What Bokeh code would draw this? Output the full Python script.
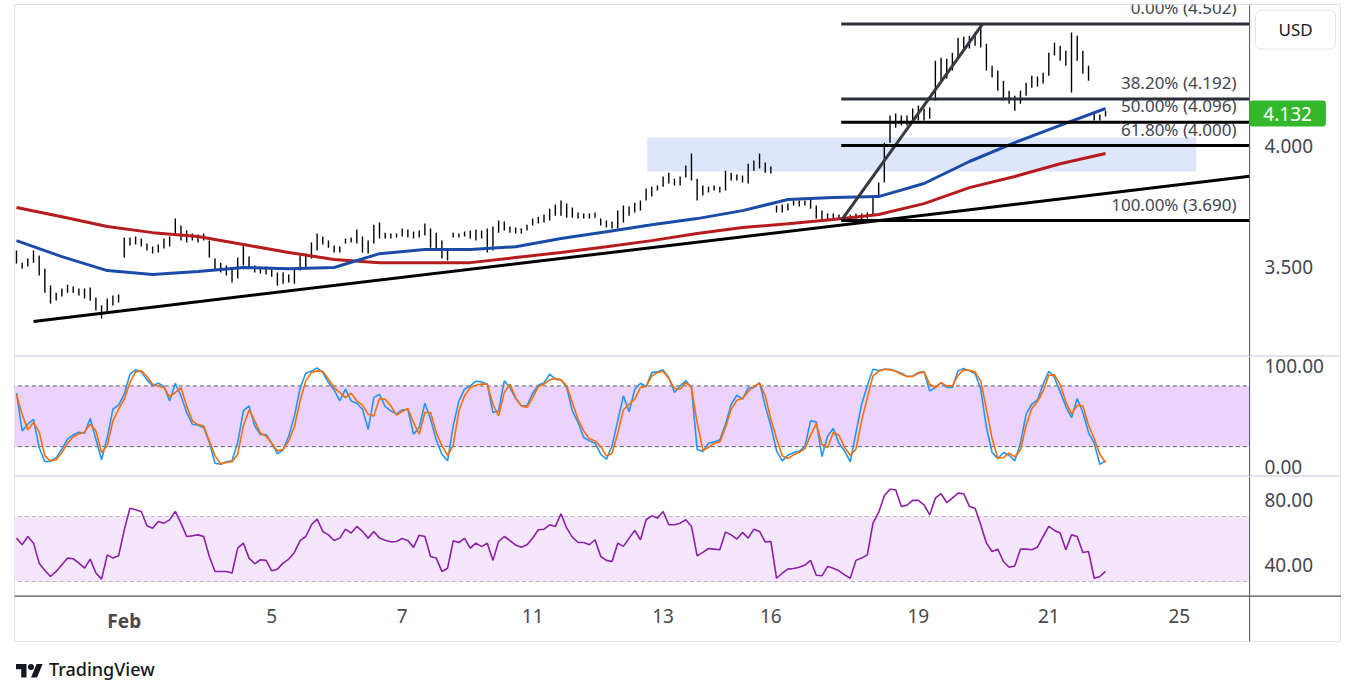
from bokeh.plotting import figure
from bokeh.models import (ColumnDataSource, Range1d, FixedTicker, Label, Div,
                          BoxAnnotation, Span, PrintfTickFormatter)
from bokeh.layouts import column
from bokeh.embed import file_html
from bokeh.resources import INLINE
from bokeh.core.properties import value

FONT = "Noto Sans"

# ---------------- data (2-hour samples) ----------------
highs = [
3.566, 3.516, 3.533, 3.566, 3.545, 3.491, 3.421, 3.392, 3.409, 3.425,
3.417, 3.409, 3.409, 3.413, 3.372, 3.339, 3.368, 3.380, 3.384, 3.620,
3.620, 3.624, 3.616, 3.595, 3.583, 3.591, 3.616, 3.624, 3.698, 3.669,
3.649, 3.636, 3.632, 3.636, 3.607, 3.533, 3.516, 3.504, 3.496, 3.537,
3.587, 3.541, 3.504, 3.500, 3.500, 3.491, 3.475, 3.475, 3.467, 3.491,
3.545, 3.554, 3.599, 3.636, 3.624, 3.607, 3.587, 3.583, 3.616, 3.620,
3.653, 3.624, 3.607, 3.673, 3.682, 3.640, 3.636, 3.636, 3.657, 3.653,
3.645, 3.649, 3.678, 3.657, 3.640, 3.607, 3.566, 3.640, 3.636, 3.645,
3.649, 3.653, 3.649, 3.657, 3.665, 3.690, 3.686, 3.665, 3.661, 3.657,
3.673, 3.698, 3.706, 3.715, 3.739, 3.756, 3.773, 3.760, 3.744, 3.723,
3.719, 3.719, 3.723, 3.698, 3.690, 3.686, 3.731, 3.752, 3.748, 3.764,
3.773, 3.822, 3.830, 3.835, 3.872, 3.888, 3.863, 3.872, 3.917, 3.967,
3.863, 3.835, 3.830, 3.835, 3.830, 3.896, 3.888, 3.880, 3.876, 3.925,
3.938, 3.967, 3.930, 3.913, 3.752, 3.756, 3.760, 3.773, 3.773, 3.773,
3.781, 3.752, 3.731, 3.719, 3.719, 3.715, 3.719, 3.715, 3.719, 3.719,
3.723, 3.793, 3.847, 4.012, 4.124, 4.132, 4.124, 4.124, 4.153, 4.165,
4.153, 4.157, 4.351, 4.363, 4.359, 4.384, 4.446, 4.450, 4.454, 4.467,
4.502, 4.421, 4.330, 4.310, 4.268, 4.227, 4.206, 4.227, 4.260, 4.289,
4.285, 4.301, 4.384, 4.425, 4.413, 4.392, 4.467, 4.454, 4.392, 4.330,
4.136, 4.128, 4.144]
lows = [
3.512, 3.491, 3.500, 3.516, 3.463, 3.392, 3.347, 3.359, 3.376, 3.392,
3.392, 3.380, 3.368, 3.359, 3.318, 3.285, 3.306, 3.339, 3.351, 3.537,
3.587, 3.591, 3.583, 3.566, 3.554, 3.558, 3.574, 3.583, 3.628, 3.607,
3.599, 3.607, 3.599, 3.607, 3.537, 3.483, 3.475, 3.463, 3.434, 3.450,
3.504, 3.496, 3.475, 3.471, 3.467, 3.458, 3.421, 3.429, 3.434, 3.429,
3.483, 3.491, 3.533, 3.566, 3.591, 3.578, 3.558, 3.558, 3.595, 3.599,
3.595, 3.558, 3.554, 3.595, 3.616, 3.616, 3.616, 3.620, 3.624, 3.620,
3.616, 3.620, 3.628, 3.578, 3.574, 3.533, 3.525, 3.620, 3.620, 3.624,
3.616, 3.607, 3.616, 3.558, 3.566, 3.640, 3.649, 3.640, 3.636, 3.636,
3.649, 3.669, 3.678, 3.682, 3.690, 3.710, 3.710, 3.702, 3.702, 3.698,
3.698, 3.698, 3.702, 3.669, 3.661, 3.657, 3.657, 3.682, 3.710, 3.723,
3.731, 3.773, 3.789, 3.814, 3.830, 3.843, 3.835, 3.835, 3.868, 3.855,
3.773, 3.793, 3.806, 3.814, 3.806, 3.814, 3.855, 3.855, 3.847, 3.843,
3.896, 3.905, 3.888, 3.884, 3.723, 3.723, 3.731, 3.752, 3.748, 3.752,
3.739, 3.698, 3.692, 3.695, 3.693, 3.696, 3.690, 3.692, 3.695, 3.694,
3.698, 3.710, 3.793, 3.847, 4.012, 4.074, 4.083, 4.083, 4.095, 4.103,
4.103, 4.111, 4.186, 4.260, 4.277, 4.310, 4.359, 4.392, 4.401, 4.413,
4.405, 4.310, 4.281, 4.227, 4.186, 4.173, 4.144, 4.173, 4.206, 4.239,
4.244, 4.256, 4.289, 4.372, 4.351, 4.330, 4.219, 4.351, 4.297, 4.268,
4.103, 4.103, 4.120]
last_price = 4.132

# moving averages, one reading every 8 samples
ma_step = 8
ma_fast = [3.607, 3.541, 3.483, 3.467, 3.479, 3.496, 3.491, 3.496, 3.553, 3.570,
           3.570, 3.582, 3.616, 3.644, 3.673, 3.698, 3.731, 3.777, 3.785, 3.789,
           3.843, 3.934, 4.012, 4.083, 4.153]
ma_slow = [3.744, 3.706, 3.665, 3.640, 3.624, 3.591, 3.558, 3.529, 3.516, 3.516,
           3.516, 3.537, 3.558, 3.582, 3.607, 3.636, 3.661, 3.677, 3.694, 3.715,
           3.760, 3.826, 3.872, 3.925, 3.967]

stoch_k = [
72.8, 35.6, 42.2, 47.1, 19.1, 5.0, 5.6, 9.2, 17.5, 27.4,
31.6, 34.3, 33.3, 47.8, 27.4, 7.0, 29.0, 57.0, 61.0, 71.8,
91.6, 95.9, 93.9, 86.0, 80.1, 82.7, 79.4, 65.2, 82.7, 70.2,
53.7, 42.2, 41.2, 38.9, 24.1, 3.6, 2.6, 5.0, 6.0, 24.1,
55.3, 60.3, 40.5, 32.0, 32.0, 23.4, 12.9, 16.8, 30.6, 50.4,
77.4, 92.6, 94.5, 97.8, 93.2, 83.3, 76.1, 65.2, 76.8, 65.2,
62.9, 57.0, 37.2, 68.5, 71.8, 59.6, 55.3, 52.4, 56.3, 57.0,
32.3, 38.9, 62.9, 47.1, 26.7, 12.5, 6.0, 40.5, 65.2, 76.8,
80.1, 84.7, 84.0, 81.7, 53.7, 55.3, 85.0, 78.4, 67.5, 60.3,
60.3, 72.8, 80.7, 83.3, 91.6, 86.6, 86.0, 78.4, 55.3, 43.8,
29.0, 25.7, 23.4, 12.5, 7.6, 20.8, 45.5, 70.2, 54.4, 76.8,
82.7, 79.4, 93.2, 93.9, 95.9, 88.3, 73.5, 80.1, 85.0, 78.4,
17.5, 15.2, 23.4, 24.7, 26.7, 42.2, 61.9, 70.8, 66.9, 77.8,
78.4, 83.3, 60.3, 40.5, 15.8, 6.0, 11.5, 14.2, 15.5, 20.1,
45.5, 44.5, 10.2, 30.6, 37.9, 23.4, 15.8, 5.0, 33.9, 61.9,
80.1, 96.5, 95.2, 96.5, 96.5, 94.9, 92.6, 89.3, 89.9, 93.2,
94.2, 75.1, 78.4, 83.3, 78.7, 78.4, 94.9, 97.2, 94.9, 92.2,
76.8, 38.9, 14.2, 8.2, 14.2, 11.5, 6.0, 23.4, 52.1, 61.9,
66.2, 81.7, 94.5, 88.3, 74.1, 59.6, 48.8, 67.5, 53.7, 33.9,
23.4, 2.6, 6.0]
stoch_d = [
71.2, 52.1, 36.6, 43.8, 34.6, 10.9, 6.0, 7.0, 14.2, 23.4,
29.7, 32.6, 34.6, 42.2, 35.6, 14.2, 20.8, 45.5, 57.0, 66.9,
83.3, 93.9, 94.9, 89.3, 81.7, 79.7, 78.4, 69.5, 73.5, 78.4,
60.3, 45.5, 41.8, 40.5, 25.7, 10.9, 3.0, 4.3, 5.0, 12.5,
40.5, 56.3, 45.5, 33.3, 30.6, 23.4, 15.8, 17.5, 25.7, 39.9,
65.2, 85.0, 93.2, 94.9, 94.2, 86.6, 78.4, 73.5, 68.5, 72.8,
65.2, 61.0, 52.1, 50.4, 67.5, 66.9, 60.3, 51.1, 54.7, 57.7,
43.8, 32.3, 53.7, 53.7, 34.0, 20.8, 11.5, 21.4, 55.3, 70.2,
78.4, 80.7, 82.0, 81.7, 61.9, 50.4, 73.5, 81.7, 68.5, 60.3,
58.6, 68.5, 79.4, 81.7, 86.0, 87.3, 86.0, 80.1, 63.6, 47.1,
35.6, 27.7, 25.7, 20.1, 10.9, 13.5, 33.3, 56.3, 61.9, 66.9,
78.4, 79.4, 89.9, 93.2, 94.5, 87.3, 77.4, 76.8, 83.3, 78.4,
43.8, 16.5, 19.1, 23.4, 24.7, 38.9, 57.0, 65.9, 67.5, 74.5,
79.7, 82.7, 70.2, 47.1, 28.0, 10.9, 8.2, 11.9, 14.5, 18.1,
31.3, 42.8, 22.4, 19.1, 33.9, 31.3, 19.1, 11.5, 17.5, 45.5,
68.5, 89.9, 94.5, 96.5, 95.9, 94.5, 91.6, 89.3, 89.3, 92.6,
93.9, 81.7, 78.4, 83.3, 80.1, 80.1, 90.6, 95.9, 95.5, 93.9,
84.7, 57.0, 28.0, 8.6, 9.2, 13.5, 9.9, 16.8, 41.2, 57.7,
64.6, 75.1, 90.6, 90.9, 81.4, 64.2, 52.1, 60.9, 60.3, 41.2,
28.0, 12.5, 4.3]
rsi = [
56.7, 52.6, 57.7, 53.6, 41.3, 36.8, 33.1, 36.2, 40.3, 44.4,
44.0, 41.3, 38.2, 43.8, 35.2, 31.5, 46.4, 44.4, 45.8, 61.8,
75.1, 74.1, 73.1, 64.3, 62.8, 66.9, 65.9, 67.9, 73.1, 65.9,
57.7, 58.1, 58.7, 57.7, 45.4, 36.2, 36.2, 36.2, 35.2, 50.5,
53.6, 44.4, 40.9, 43.4, 43.0, 36.6, 37.6, 41.3, 43.8, 47.9,
55.2, 57.7, 64.9, 68.4, 60.8, 58.7, 55.2, 56.7, 62.2, 59.8,
63.9, 60.8, 56.7, 60.8, 56.7, 55.4, 54.4, 54.6, 56.5, 55.3,
51.0, 58.5, 57.7, 45.4, 44.4, 36.2, 38.2, 55.0, 54.0, 56.5,
50.5, 53.6, 51.5, 53.6, 43.0, 54.6, 57.7, 55.2, 52.4, 51.1,
52.6, 56.7, 61.8, 62.2, 64.9, 63.9, 71.7, 62.8, 57.3, 54.0,
54.0, 52.6, 55.7, 45.4, 43.0, 42.3, 53.6, 51.6, 56.7, 61.4,
55.7, 68.0, 70.4, 69.0, 73.1, 64.9, 64.9, 65.9, 68.0, 63.9,
45.8, 47.9, 50.3, 49.9, 49.5, 60.4, 58.7, 56.1, 60.2, 56.7,
62.2, 60.8, 54.4, 54.6, 32.0, 35.1, 37.6, 38.0, 38.8, 40.1,
43.0, 33.9, 33.5, 39.2, 38.2, 36.6, 34.1, 32.0, 43.0, 44.4,
46.4, 65.9, 72.5, 82.7, 86.8, 86.4, 76.2, 77.0, 79.9, 79.9,
77.2, 71.0, 81.3, 84.0, 78.6, 81.3, 84.4, 84.0, 76.2, 75.1,
64.9, 53.6, 48.5, 49.9, 42.3, 38.8, 39.6, 49.9, 49.9, 49.5,
51.1, 57.7, 63.9, 61.4, 59.8, 49.5, 58.7, 57.7, 47.9, 48.5,
32.0, 33.1, 36.2]

# Fibonacci retracement drawn from the swing low bar to the swing high bar
fib_low_bar, fib_high_bar = 145.4, 170.3
fib_ratios = ["0.00%", "38.20%", "50.00%", "61.80%", "100.00%"]
fib_levels = [4.502, 4.192, 4.096, 4.000, 3.690]
# long rising trend line (two anchor points)
trend_bars = [3, 217.4]
trend_prices = [3.273, 3.873]
# support / resistance zone
zone_bars = (111.2, 208.0)
zone_prices = (3.893, 4.033)

# time axis: bar position of each date label (the month label is drawn bold)
date_labels = ["Feb", "5", "7", "11", "13", "16", "19", "21", "25"]
date_bars = [19, 45, 68, 91, 114, 133, 159, 182, 205]

price_ticks = [3.5, 4.0]
stoch_ticks = [0, 100]
rsi_ticks = [40, 80]

# ---------------- layout constants ----------------
FRAME_W = 1327            # plot area incl. the price-scale strip
X_RANGE = Range1d(-0.35, 233.6)
SCALE_X = 217.4           # x where the price scale strip begins
AXIS_COL = "#50535e"
LBL_COL = "#434651"
BORDER = "#e0e3eb"


def style_axis(ax, ticks, fmt):
    ax.ticker = FixedTicker(ticks=ticks)
    ax.formatter = PrintfTickFormatter(format=fmt)
    ax.axis_line_color = None
    ax.major_tick_line_color = None
    ax.minor_tick_line_color = None
    ax.major_tick_out = 0
    ax.major_tick_in = 0
    ax.major_label_standoff = -77
    ax.major_label_text_font = FONT
    ax.major_label_text_font_size = "19px"
    ax.major_label_text_color = LBL_COL


def base_fig(h, yr, **kw):
    f = figure(frame_width=FRAME_W, frame_height=h, x_range=X_RANGE, y_range=yr,
               output_backend="svg", toolbar_location=None, y_axis_location="right",
               min_border_left=14, min_border_right=0,
               background_fill_color="white", border_fill_color="white", **kw)
    f.grid.visible = False
    f.outline_line_color = BORDER
    f.add_layout(Span(location=SCALE_X, dimension="height", line_color=AXIS_COL,
                      line_width=1))
    return f

# ---------------- price pane ----------------
p = base_fig(352, Range1d(3.128, 4.583), x_axis_location=None, min_border_bottom=0,
             min_border_top=4)
style_axis(p.yaxis[0], price_ticks, "%.3f")

p.add_layout(BoxAnnotation(left=zone_bars[0], right=zone_bars[1], bottom=zone_prices[0],
                           top=zone_prices[1], fill_color="#dee6fc", fill_alpha=1.0,
                           line_color=None, level="underlay"))

idx = list(range(len(highs)))
bars = ColumnDataSource(dict(x=idx, h=highs, l=lows))
p.segment(x0="x", y0="l", x1="x", y1="h", source=bars, line_color="#000000", line_width=1.4)

ma_x = [i * ma_step for i in range(len(ma_fast))]
p.line(ma_x, ma_slow, line_color="#b71c1c", line_width=3)
p.line(ma_x, ma_fast, line_color="#1a4ba8", line_width=3)

p.line(trend_bars, trend_prices, line_color="#000000", line_width=3)
p.line([fib_low_bar, fib_high_bar], [fib_levels[-1], fib_levels[0]],
       line_color="#363a45", line_width=3)

fib_cols = ["#2a2e39", "#2a2e39", "#000000", "#000000", "#000000"]
fsrc = ColumnDataSource(dict(
    x0=[fib_low_bar] * 5, x1=[SCALE_X] * 5, y=fib_levels, c=fib_cols,
    t=["%s (%.3f)" % (r, v) for r, v in zip(fib_ratios, fib_levels)],
    tx=[215.1] * 5))
p.segment(x0="x0", y0="y", x1="x1", y1="y", line_color="c", line_width=3, source=fsrc)
p.text(x="tx", y="y", text="t", source=fsrc, text_align="right", text_baseline="bottom",
       y_offset=-5, text_font=value(FONT), text_font_size="17px", text_color=LBL_COL)

p.add_layout(Label(x=224.1, y=last_price, text="%.3f" % last_price, text_align="center",
                   text_baseline="middle", text_font=FONT, text_font_size="19px",
                   text_color="white", background_fill_color="#33b82a",
                   background_fill_alpha=1.0, padding=(14, 6), border_radius=3))
p.add_layout(Label(x=225.5, y=4.479, text="USD", text_align="center", text_baseline="middle",
                   text_font=FONT, text_font_size="17px", text_color="#131722",
                   background_fill_color="white", border_line_color=BORDER,
                   padding=(23, 8), border_radius=6))

# ---------------- stochastic pane ----------------
s = base_fig(120, Range1d(-9.5, 109.1), x_axis_location=None, min_border_bottom=0,
             min_border_top=0)
style_axis(s.yaxis[0], stoch_ticks, "%.2f")
s.add_layout(BoxAnnotation(bottom=20, top=80, right=SCALE_X, fill_color="#ebd3fc",
                           fill_alpha=1.0, line_color=None, level="underlay"))
s.segment(x0=[-1, -1], y0=[20, 80], x1=[SCALE_X, SCALE_X], y1=[20, 80],
          line_color="#5d606b", line_dash="4 3", line_width=1)
s.line(idx, stoch_k, line_color="#2196f3", line_width=1.6)
s.line(idx, stoch_d, line_color="#ff6d00", line_width=1.6)

# ---------------- RSI pane (frame also holds the time-scale strip) ----------------
RSI_BOTTOM = 21.06        # RSI value at the time-scale line
r = base_fig(165, Range1d(-6.9, 94.6), x_axis_location="below", min_border_bottom=1,
             min_border_top=0)
style_axis(r.yaxis[0], rsi_ticks, "%.2f")
r.add_layout(BoxAnnotation(bottom=30, top=70, right=SCALE_X, fill_color="#f4e7fd",
                           fill_alpha=1.0, line_color=None, level="underlay"))
r.segment(x0=[-1, -1], y0=[30, 70], x1=[SCALE_X, SCALE_X], y1=[30, 70],
          line_color="#b8b9c2", line_dash="4 3", line_width=1)
r.segment(x0=[-1], y0=[RSI_BOTTOM], x1=[240], y1=[RSI_BOTTOM],
          line_color=AXIS_COL, line_width=1.2)
r.line(idx, rsi, line_color="#8e1fa8", line_width=1.6)

xa = r.xaxis[0]
xa.ticker = FixedTicker(ticks=date_bars[1:])
xa.major_label_overrides = {b: t for b, t in zip(date_bars[1:], date_labels[1:])}
xa.axis_line_color = None
xa.major_tick_line_color = None
xa.minor_tick_line_color = None
xa.major_tick_out = 0
xa.major_tick_in = 0
xa.major_label_standoff = -33
xa.major_label_text_font = FONT
xa.major_label_text_font_size = "19px"
xa.major_label_text_color = "#4a4a4a"
# month label, bold like the chart's own month markers
r.add_layout(Label(x=date_bars[0], y=6.0, text=date_labels[0], text_align="center",
                   text_baseline="middle", text_font=FONT, text_font_size="19px",
                   text_font_style="bold", text_color="#4a4a4a"))

logo = Div(text=(
    '<div style="display:flex;align-items:center;font-family:\'Noto Sans\';'
    'font-weight:500;font-size:18px;color:#131722;">'
    '<svg width="29" height="18" viewBox="0 0 36 24">'
    '<path d="M14 22H7V11H0V4h14v18zM28 22h-8l7.5-18h8L28 22z" fill="#131722"/>'
    '<circle cx="20" cy="8" r="4" fill="#131722"/></svg>'
    '<span style="margin-left:5px">TradingView</span></div>'),
    width=300, height=24, margin=(15, 0, 0, 15))

layout = column(p, s, r, logo, spacing=0)
open("out.html", "w").write(file_html(layout, INLINE))
